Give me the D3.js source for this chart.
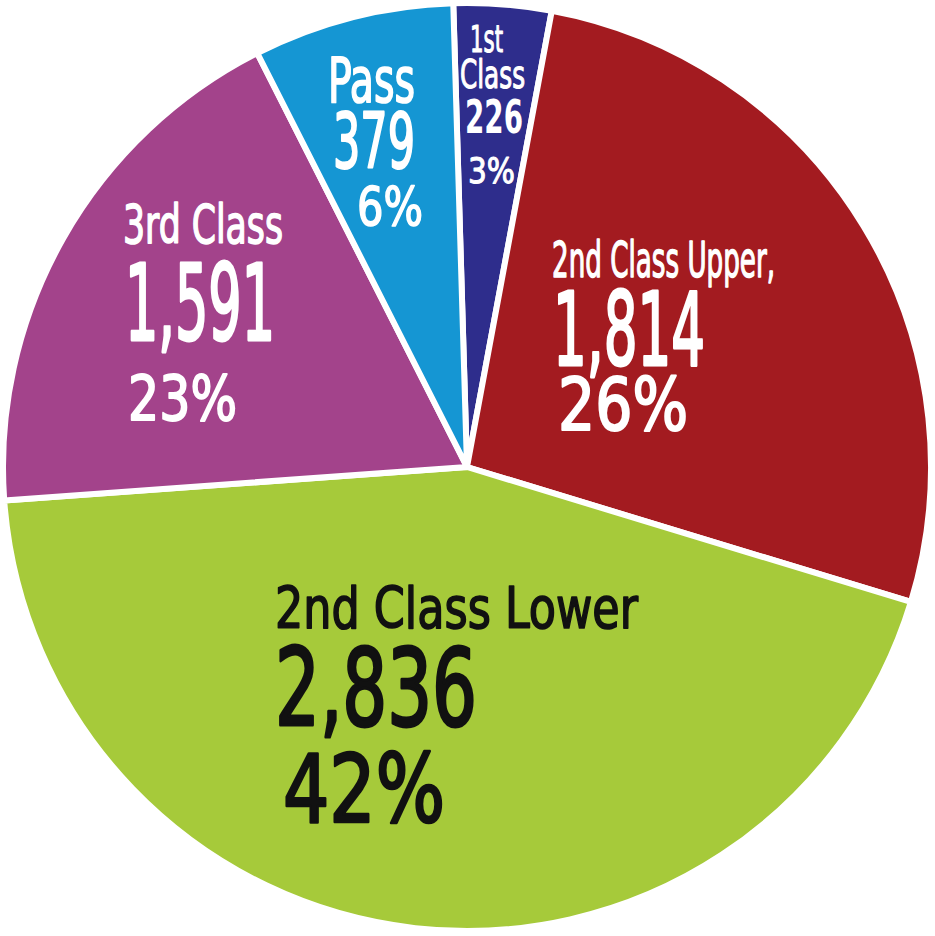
<!DOCTYPE html>
<html>
<head>
<meta charset="utf-8">
<script src="https://cdn.jsdelivr.net/npm/d3@7"></script>
<style>
  html, body { margin: 0; padding: 0; background: #fff; }
  svg text { font-family: "Liberation Sans Narrow", "DejaVu Sans Condensed", sans-serif; }
</style>
</head>
<body>
<svg id="chart" width="935" height="936"></svg>
<script>
// data
var categories = ["1st Class", "2nd Class Upper", "2nd Class Lower", "3rd Class", "Pass"];
var counts = [226, 1814, 2836, 1591, 379];
var percents = ["3%", "26%", "42%", "23%", "6%"];
// slice sizes as drawn in the original graphic (they don't follow the counts exactly)
var drawnShare = [3.4, 26.8, 44.2, 18.7, 7.0];
var nameLines = [["1st", "Class"], ["2nd Class Upper,"], ["2nd Class Lower"], ["3rd Class"], ["Pass"]];

var color = {
  "1st Class": "#2e2d8c",
  "2nd Class Upper": "#a31b20",
  "2nd Class Lower": "#a6ca3a",
  "3rd Class": "#a3438b",
  "Pass": "#1596d3"
};
var textColor = {"2nd Class Lower": "#111"};

// label layout: one entry per text line -> [left x, baseline y, cap height, width, bold]
var labelLayout = {
  "1st Class":       [[470, 52, 27, 33], [460, 88, 28, 65], [465, 133, 33, 58, true], [468, 183, 25, 47]],
  "2nd Class Upper": [[552, 277, 35, 223], [553, 365, 73, 152], [558, 430, 52, 130]],
  "2nd Class Lower": [[275, 628, 41, 363], [275, 725, 77, 202], [283, 822, 67, 162]],
  "3rd Class":       [[123, 243, 38, 160], [125, 340, 75, 150], [128, 420, 45, 109]],
  "Pass":            [[328, 102, 44, 87], [333, 168, 55, 82], [357, 225, 38, 66]]
};

var svg = d3.select("#chart"),
    cx = 467, cy = 467, radius = 464,
    g = svg.append("g").attr("transform", "translate(" + cx + "," + cy + ")");

var slices = categories.map(function(c, i) {
  return {name: c, count: counts[i], pct: percents[i], share: drawnShare[i], lines: nameLines[i]};
});

var start = -1.7 * Math.PI / 180;
var pie = d3.pie()
    .sort(null)
    .value(function(d) { return d.share; })
    .startAngle(start)
    .endAngle(start + 2 * Math.PI);

var arc = d3.arc().innerRadius(0).outerRadius(radius);

g.selectAll(".slice")
  .data(pie(slices))
  .enter().append("path")
    .attr("class", "slice")
    .attr("d", arc)
    .attr("fill", function(d) { return color[d.data.name]; })
    .attr("stroke", "#fff")
    .attr("stroke-width", 6)
    .attr("stroke-linejoin", "round");

// labels
var fmt = d3.format(",");
var labels = svg.append("g").attr("class", "labels");

slices.forEach(function(s) {
  var texts = s.lines.concat([fmt(s.count), s.pct]);
  var layout = labelLayout[s.name];
  var fill = textColor[s.name] || "#fff";
  texts.forEach(function(t, i) {
    var L = layout[i],
        size = L[2] / 0.716;
    labels.append("text")
      .attr("x", L[0])
      .attr("y", L[1])
      .attr("font-size", size)
      .attr("font-weight", L[4] ? "bold" : "normal")
      .attr("textLength", L[3])
      .attr("lengthAdjust", "spacingAndGlyphs")
      .attr("fill", fill)
      .attr("stroke", fill)
      .attr("stroke-width", L[4] ? 0 : size * 0.028)
      .attr("stroke-linejoin", "round")
      .text(t);
  });
});
</script>
</body>
</html>
